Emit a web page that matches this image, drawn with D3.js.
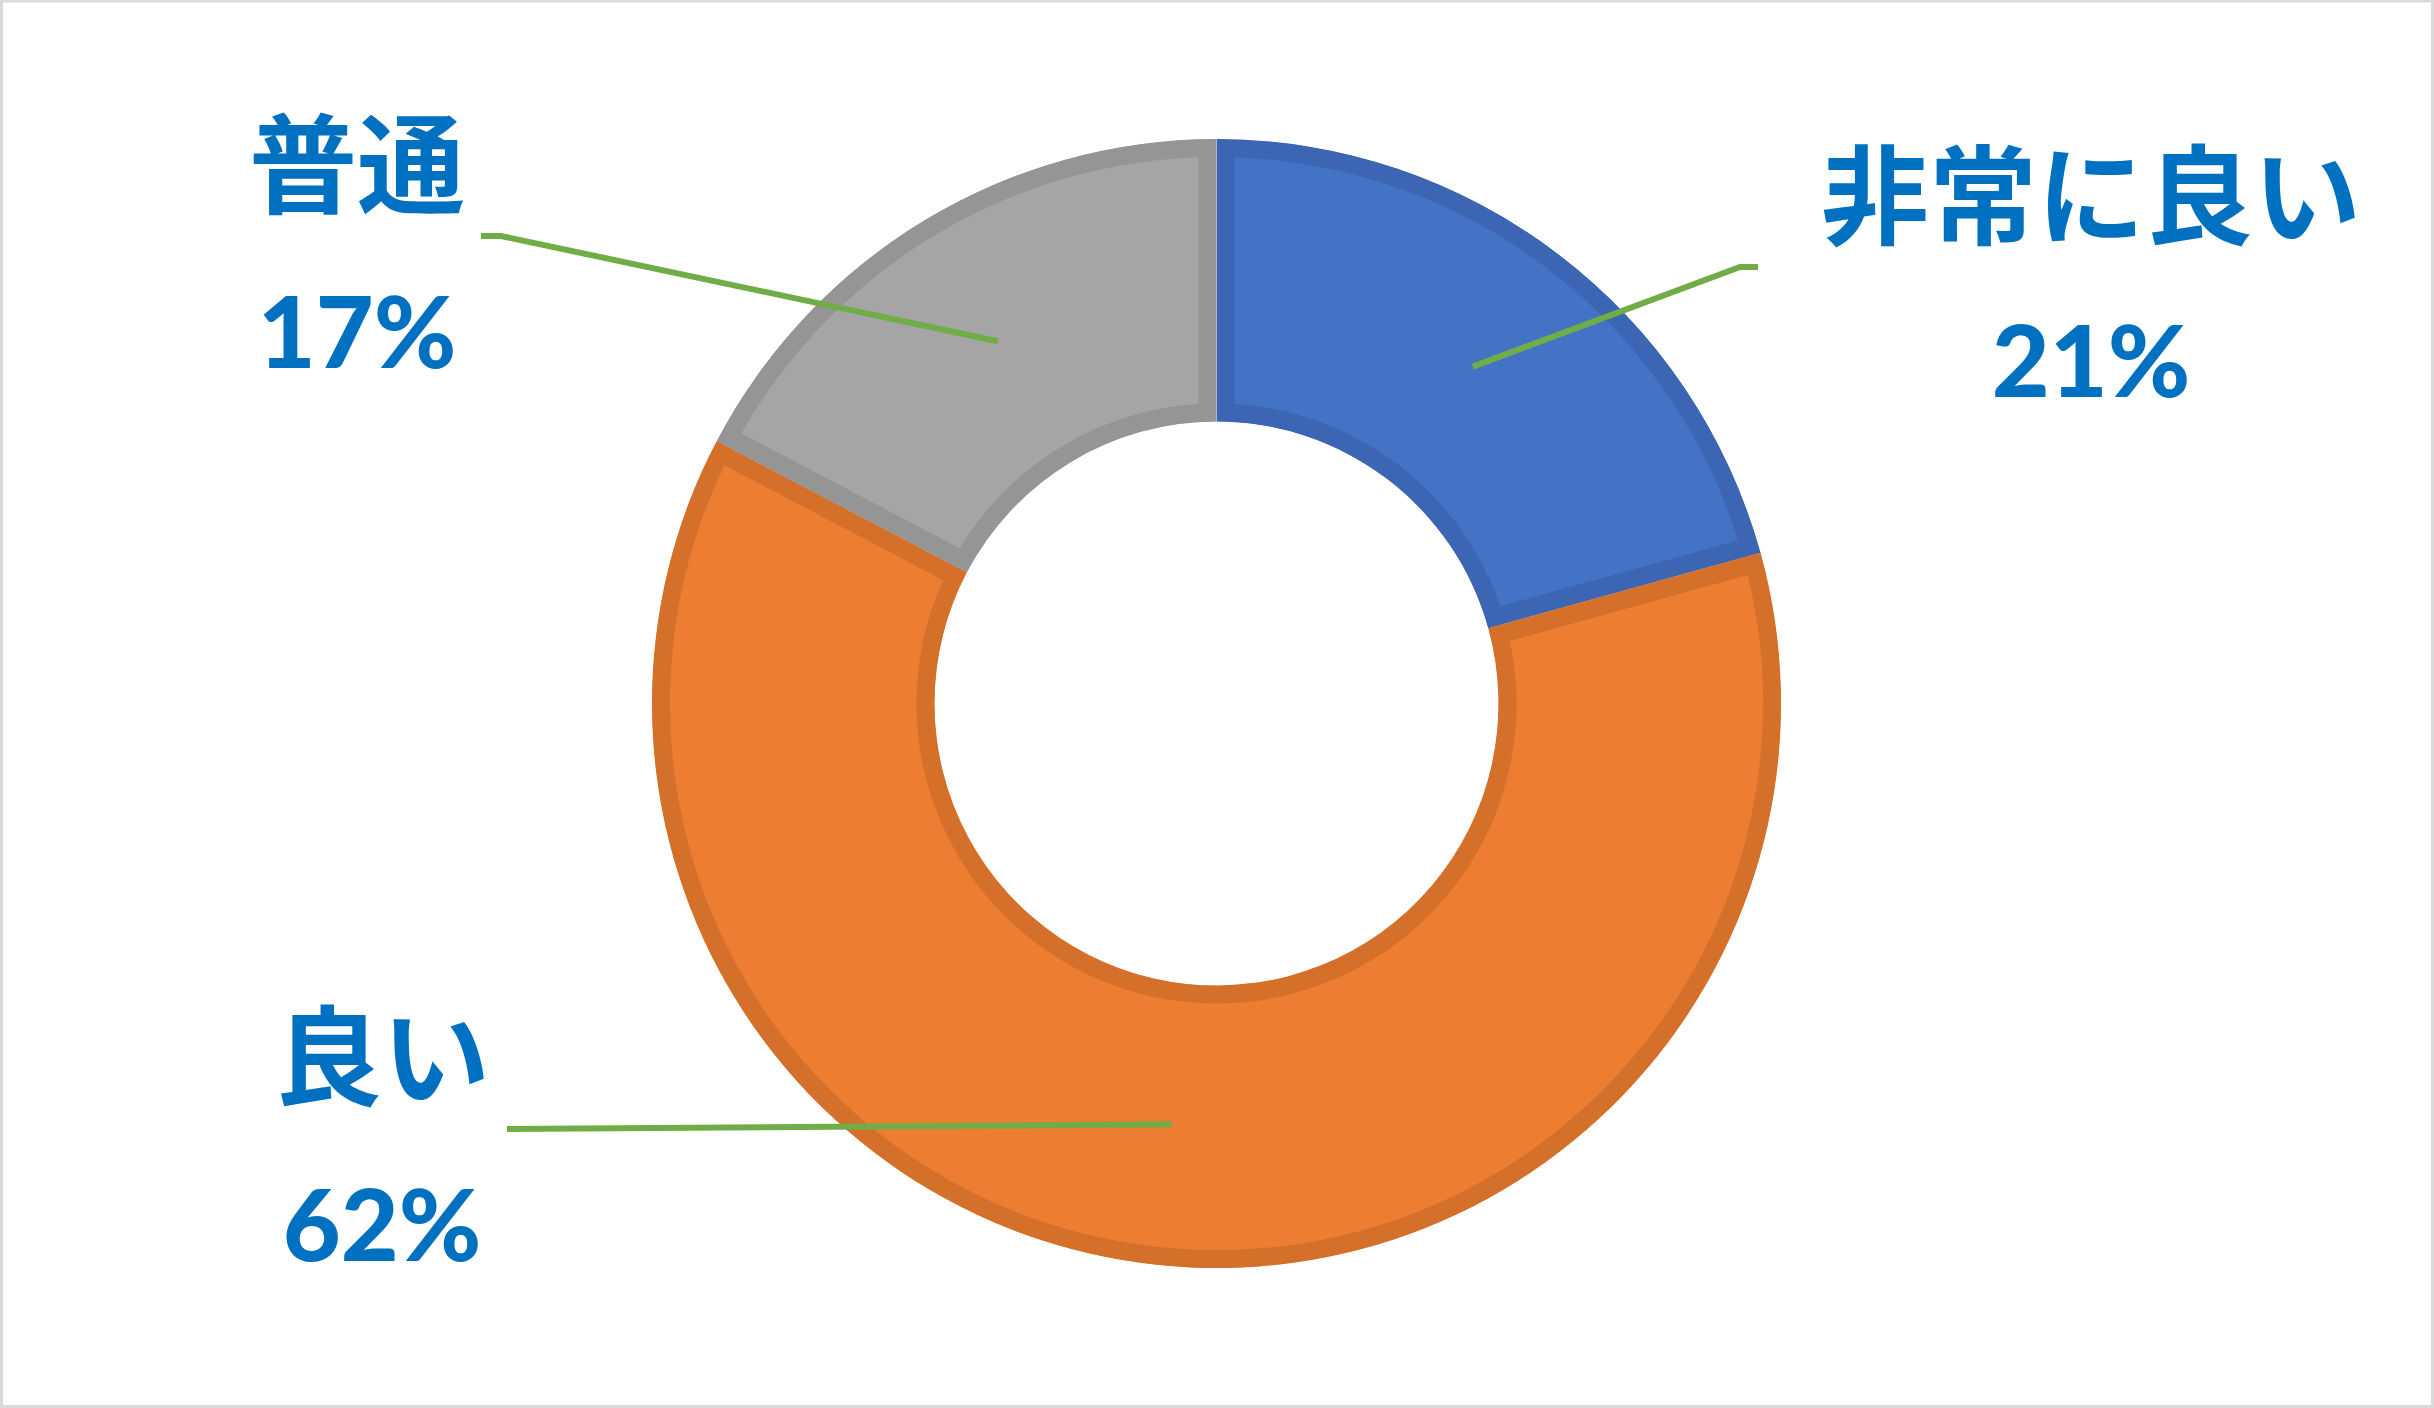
<!DOCTYPE html>
<html>
<head>
<meta charset="utf-8">
<script src="https://cdn.jsdelivr.net/npm/d3@7"></script>
<style>
  html, body { margin: 0; padding: 0; background: #fff; }
  svg { display: block; }
</style>
</head>
<body>
<svg id="chart" width="2434" height="1408"></svg>
<script>
// ---- data ----
const categories = ["非常に良い", "良い", "普通"];
const values = [20.7, 62.0, 17.3];
const percentLabels = ["21%", "62%", "17%"];
const fillColors = ["#4472C4", "#ED7D31", "#A5A5A5"];
const strokeColors = ["#3C66B3", "#D5702B", "#959595"];

// ---- layout ----
const W = 2434, H = 1408;
const cx = 1216.5, cy = 703.5;
const outerR = 564.5, innerR = 282;
const band = 18; // visible border band inside each slice
const labelPos = [
  { x: 2091, y1: 236, y2: 397, line: [[1758, 267], [1740, 267]] },
  { x: 382, y1: 1097, y2: 1261, line: [[507, 1129]] },
  { x: 357, y1: 205, y2: 368, line: [[481, 236], [501, 236]] }
];

const svg = d3.select("#chart");

// chart border
svg.append("rect")
  .attr("x", 1.5).attr("y", 1).attr("width", W - 3).attr("height", H - 2.5)
  .attr("fill", "#fff").attr("stroke", "#D9D9D9").attr("stroke-width", 3);

const pie = d3.pie().sort(null).value(d => d);
const arcs = pie(values);
const arc = d3.arc().innerRadius(innerR).outerRadius(outerR);
const midArc = d3.arc().innerRadius((innerR + outerR) / 2).outerRadius((innerR + outerR) / 2);

const g = svg.append("g").attr("transform", `translate(${cx},${cy})`);
const defs = svg.append("defs");

arcs.forEach((a, i) => {
  defs.append("clipPath").attr("id", "clip" + i)
    .append("path").attr("d", arc(a));
});

g.selectAll("path.slice")
  .data(arcs)
  .join("path")
  .attr("class", "slice")
  .attr("d", arc)
  .attr("fill", (d, i) => fillColors[i])
  .attr("stroke", (d, i) => strokeColors[i])
  .attr("stroke-width", band * 2)
  .attr("stroke-linejoin", "miter")
  .attr("clip-path", (d, i) => `url(#clip${i})`);

// leader lines
const lineGen = d3.line();
arcs.forEach((a, i) => {
  const c = midArc.centroid(a);
  const anchor = [cx + c[0], cy + c[1]];
  const pts = labelPos[i].line.concat([anchor]);
  svg.append("path")
    .attr("d", lineGen(pts))
    .attr("fill", "none")
    .attr("stroke", "#70AD47")
    .attr("stroke-width", 6);
});

// labels
arcs.forEach((a, i) => {
  const p = labelPos[i];
  svg.append("text")
    .attr("x", p.x).attr("y", p.y1)
    .attr("text-anchor", "middle")
    .attr("font-family", "'Noto Sans CJK JP', sans-serif")
    .attr("font-weight", 700)
    .attr("font-size", 108)
    .attr("fill", "#0070C0")
    .text(categories[i]);
  svg.append("text")
    .attr("x", p.x).attr("y", p.y2)
    .attr("text-anchor", "middle")
    .attr("font-family", "Lato, 'Noto Sans', sans-serif")
    .attr("font-weight", 900)
    .attr("font-size", 100)
    .attr("fill", "#0070C0")
    .text(percentLabels[i]);
});
</script>
</body>
</html>
